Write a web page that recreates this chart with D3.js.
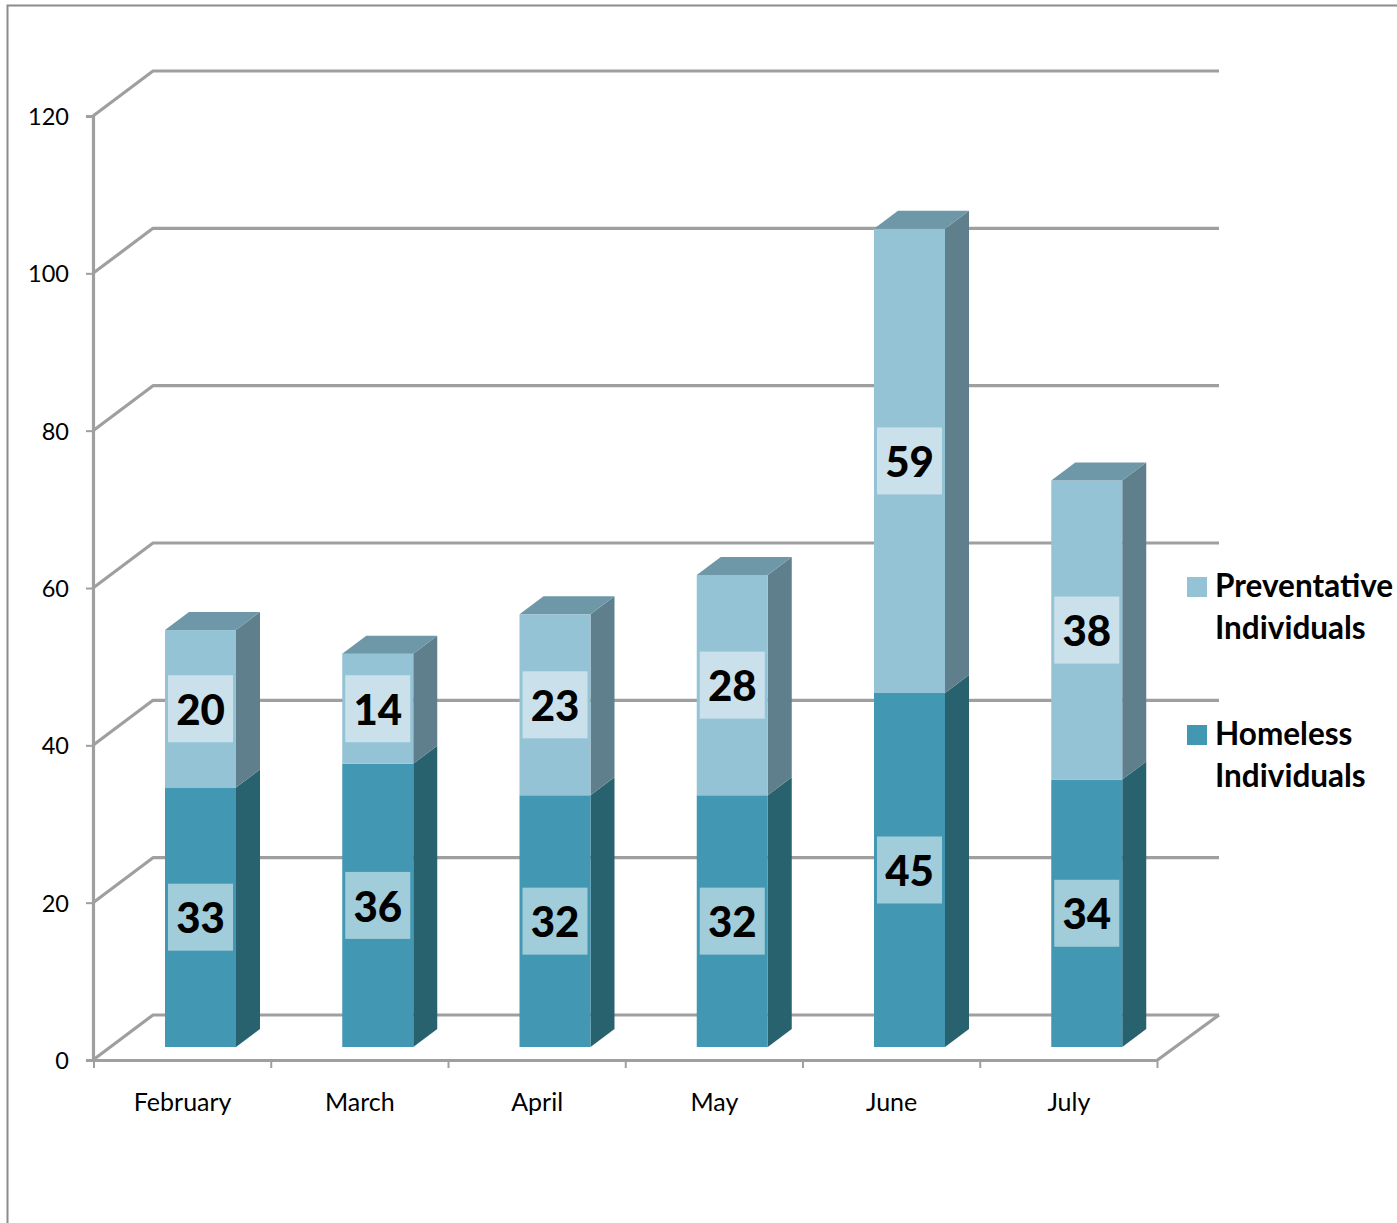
<!DOCTYPE html>
<html><head><meta charset="utf-8">
<script src="https://cdn.jsdelivr.net/npm/d3@7/dist/d3.min.js"></script>
<style>
html,body{margin:0;padding:0;background:#fff;overflow:hidden}
svg{display:block;font-family:Lato,"Open Sans",sans-serif}
</style></head><body>
<svg id="c" width="1397" height="1223"></svg>
<script>
const categories = ["February","March","April","May","June","July"];
const homeless = [33,36,32,32,45,34];
const preventative = [20,14,23,28,59,38];
const yTicks = [0,20,40,60,80,100,120];
const legendHomeless = ["Homeless","Individuals"];
const legendPreventative = ["Preventative","Individuals"];

const svg = d3.select("#c");
const rows = categories.map((c,i)=>({c,homeless:homeless[i],preventative:preventative[i]}));
const stack = d3.stack().keys(["homeless","preventative"])(rows);

const x = d3.scaleBand().domain(categories).range([94,1157.5]).padding(0);
const y = d3.scaleLinear().domain([0,120]).range([1060,116]);
const floorDx = 60, floorDy = -45;      // back wall offset
const barDx = 24, barDy = -18;          // bar depth
const barLift = -13, barW = 71, barIn = 71;
const grey = "#9f9f9f";
const pal = {
  homeless:{front:"#4298b2",side:"#29626f",top:"#2d6b7b"},
  preventative:{front:"#95c3d6",side:"#5f7f8c",top:"#6e97a7"}
};

// outer frame
svg.append("path").attr("d","M7.5,1223V5.5H1397").attr("fill","none").attr("stroke","#8c8c8c").attr("stroke-width",2);

// walls: gridlines
const g = svg.append("g").attr("fill","none").attr("stroke",grey).attr("stroke-width",3.2).attr("stroke-linejoin","round");
yTicks.forEach(t=>{
  g.append("path").attr("d",`M${x.range()[0]-1},${y(t)}L${x.range()[0]-1+floorDx},${y(t)+floorDy}H1219`);
});
g.append("path").attr("d",`M1157.5,${y(0)}L1219,${y(0)+floorDy}`);

// axes
const yAxis = svg.append("g").attr("transform",`translate(${x.range()[0]-1},0)`)
  .call(d3.axisLeft(y).tickValues(yTicks).tickSize(7).tickPadding(17));
const xAxis = svg.append("g").attr("transform",`translate(0,${y(0)})`)
  .call(d3.axisBottom(x).tickSize(0).tickPadding(33));
[yAxis,xAxis].forEach(a=>{
  a.selectAll(".domain").attr("stroke",grey).attr("stroke-width",3.2);
  a.selectAll(".tick line").attr("stroke",grey).attr("stroke-width",2);
  a.selectAll("text").attr("fill","#000").attr("font-family","Lato");
});
yAxis.selectAll("text").attr("font-size",23.5).attr("dy","0.36em");
xAxis.selectAll(".tick text").attr("font-size",25).attr("dx",0).attr("dy","0.71em");
// category boundary ticks
svg.append("g").attr("stroke",grey).attr("stroke-width",2)
  .selectAll("line").data([...categories.map(c=>x(c)),x.range()[1]]).join("line")
  .attr("x1",d=>d).attr("x2",d=>d).attr("y1",y(0)).attr("y2",y(0)+8);

// bars
const bars = svg.append("g");
stack.forEach(s=>{
  const p = pal[s.key];
  const sg = bars.append("g");
  const L = d=>x(d.data.c)+barIn;
  const T = d=>y(d[1])+barLift, B = d=>y(d[0])+barLift;
  sg.selectAll(".side").data(s).join("path").attr("fill",p.side)
    .attr("d",d=>`M${L(d)+barW},${T(d)}L${L(d)+barW+barDx},${T(d)+barDy}V${B(d)+barDy}L${L(d)+barW},${B(d)}Z`);
  sg.selectAll(".front").data(s).join("rect").attr("fill",p.front)
    .attr("x",L).attr("y",T).attr("width",barW).attr("height",d=>B(d)-T(d));
});
const topS = stack[stack.length-1];
bars.selectAll(".top").data(topS).join("path").attr("fill",pal.preventative.top)
  .attr("d",d=>{const l=x(d.data.c)+barIn,t=y(d[1])+barLift;
    return `M${l},${t}L${l+barDx},${t+barDy}H${l+barW+barDx}L${l+barW},${t}Z`;});

// data labels
const labels = svg.append("g");
stack.forEach(s=>{
  const cy = d=>(y(d[0])+y(d[1]))/2+barLift;
  const cx = d=>x(d.data.c)+barIn+barW/2;
  labels.selectAll(".b"+s.key).data(s).join("rect")
    .attr("x",d=>cx(d)-32.5).attr("y",d=>cy(d)-33.5).attr("width",65).attr("height",67)
    .attr("fill","#fff").attr("fill-opacity",.5);
  labels.selectAll(".t"+s.key).data(s).join("text")
    .attr("x",cx).attr("y",d=>cy(d)+1).attr("dy","0.36em").attr("text-anchor","middle")
    .attr("font-size",42).attr("font-weight",900).attr("fill","#000")
    .text(d=>d[1]-d[0]);
});

// legend
const legend = svg.append("g");
[[legendPreventative,pal.preventative.front,577,597],[legendHomeless,pal.homeless.front,725,745]].forEach(([lines,col,sy,by])=>{
  legend.append("rect").attr("x",1187).attr("y",sy).attr("width",20).attr("height",20).attr("fill",col);
  lines.forEach((t,i)=>legend.append("text").attr("x",1215).attr("y",by+i*42)
    .attr("font-size",31.5).attr("font-weight",700).attr("fill","#000").text(t));
});
</script></body></html>
